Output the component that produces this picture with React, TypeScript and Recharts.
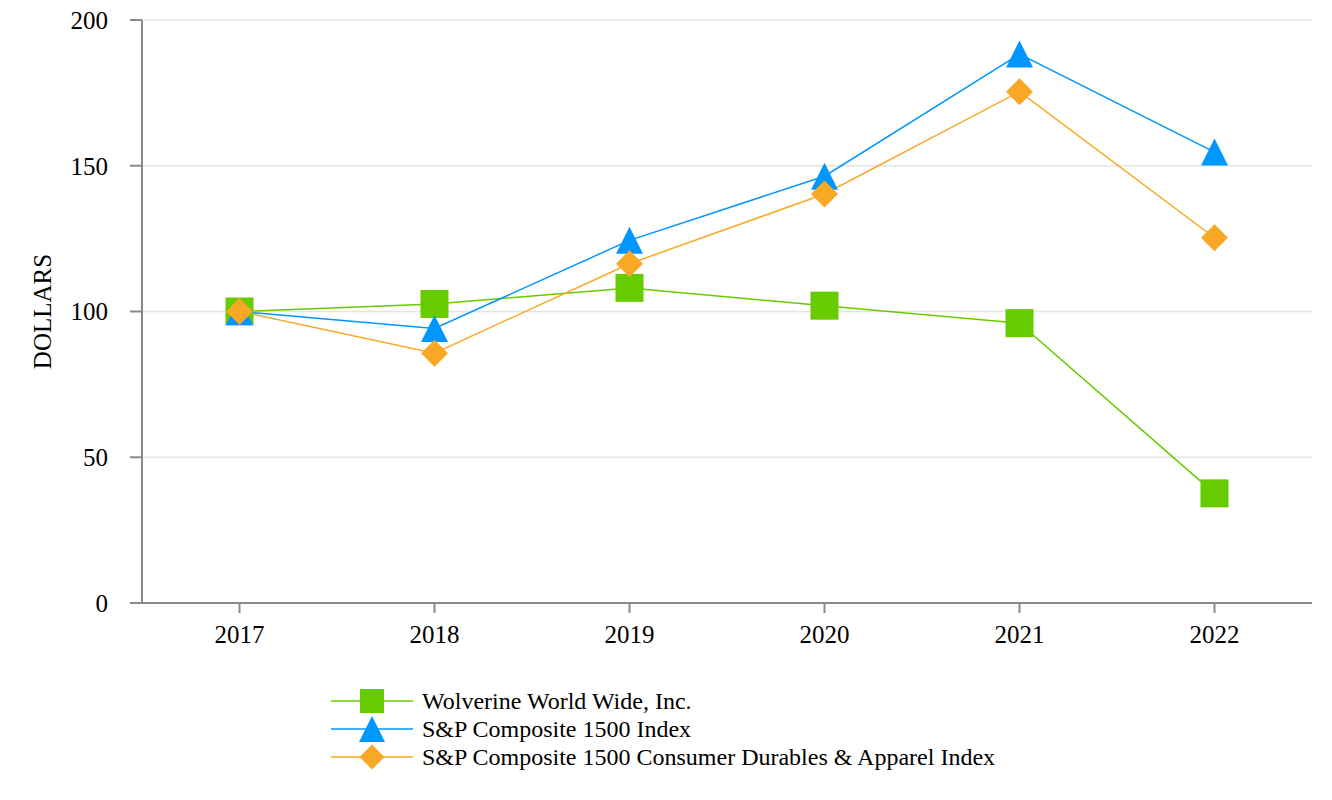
import React from "react";
import {
  LineChart,
  Line,
  XAxis,
  YAxis,
  CartesianGrid,
  Legend,
} from "recharts";

const years = ["2017", "2018", "2019", "2020", "2021", "2022"];
const wolverine = [100, 102.6, 108.1, 102.0, 96.0, 37.6];
const sp1500 = [100, 94.2, 124.4, 146.4, 188.3, 154.7];
const durables = [100, 85.7, 116.4, 140.3, 175.4, 125.3];
const yTicks = [0, 50, 100, 150, 200];

const GREEN = "#66CC00";
const BLUE = "#0096FF";
const ORANGE = "#F9A825";
const AXIS = "#8a8a8a";
const FONT = "'Liberation Serif', 'Times New Roman', serif";

const data = years.map((year, i) => ({
  year,
  wolverine: wolverine[i],
  sp1500: sp1500[i],
  durables: durables[i],
}));

const series = [
  { key: "wolverine", name: "Wolverine World Wide, Inc.", color: GREEN, shape: "square" },
  { key: "sp1500", name: "S&P Composite 1500 Index", color: BLUE, shape: "triangle" },
  {
    key: "durables",
    name: "S&P Composite 1500 Consumer Durables & Apparel Index",
    color: ORANGE,
    shape: "diamond",
  },
];

function Marker({ shape, cx, cy, color, r }: { shape: string; cx: number; cy: number; color: string; r: number }) {
  if (shape === "square") {
    return <rect x={cx - r} y={cy - r} width={r * 2} height={r * 2} fill={color} />;
  }
  if (shape === "triangle") {
    const pts = `${cx},${cy - r} ${cx + r},${cy + r} ${cx - r},${cy + r}`;
    return <polygon points={pts} fill={color} />;
  }
  const pts = `${cx},${cy - r} ${cx + r},${cy} ${cx},${cy + r} ${cx - r},${cy}`;
  return <polygon points={pts} fill={color} />;
}

function makeDot(shape: string, color: string) {
  return (props: any) => {
    const { cx, cy, index } = props;
    if (cx == null || cy == null) return <g key={`${shape}-${index}`} />;
    return (
      <g key={`${shape}-${index}`}>
        <Marker shape={shape} cx={cx} cy={cy} color={color} r={shape === "square" ? 14 : 13.5} />
      </g>
    );
  };
}

function XTick(props: any) {
  const { x, y, payload } = props;
  return (
    <text x={x} y={y} dy="0.71em" textAnchor="middle" fontSize={25} fill="#000" fontFamily={FONT}>
      {payload.value}
    </text>
  );
}

function YTick(props: any) {
  const { x, y, payload } = props;
  return (
    <text x={x} y={y} dy="0.355em" textAnchor="end" fontSize={25} fill="#000" fontFamily={FONT}>
      {payload.value}
    </text>
  );
}

function LegendContent() {
  return (
    <div style={{ fontFamily: FONT, fontSize: 24, color: "#000" }}>
      {series.map((s) => (
        <div key={s.key} style={{ display: "flex", alignItems: "center", height: 28 }}>
          <svg width={82} height={28} style={{ display: "block" }}>
            <line x1={0} y1={14} x2={82} y2={14} stroke={s.color} strokeWidth={1.5} />
            <Marker
              shape={s.shape}
              cx={41}
              cy={14}
              color={s.color}
              r={s.shape === "square" ? 12 : s.shape === "triangle" ? 13 : 12.5}
            />
          </svg>
          <span style={{ marginLeft: 9, whiteSpace: "nowrap", lineHeight: "28px" }}>{s.name}</span>
        </div>
      ))}
    </div>
  );
}

export default function App() {
  return (
    <div style={{ width: 1324, height: 792, background: "#fff", fontFamily: FONT }}>
      <LineChart
        width={1324}
        height={792}
        data={data}
        margin={{ top: 12, right: 20, left: 0, bottom: 147 }}
      >
        <CartesianGrid vertical={false} stroke="#e4e4e4" strokeWidth={1.5} />
        <XAxis
          dataKey="year"
          scale="band"
          height={50}
          tick={<XTick />}
          tickSize={10}
          tickMargin={12}
          axisLine={{ stroke: AXIS, strokeWidth: 2 }}
          tickLine={{ stroke: AXIS, strokeWidth: 2 }}
        />
        <YAxis
          width={134}
          domain={[0, 200]}
          ticks={yTicks}
          tick={<YTick />}
          tickSize={12}
          tickMargin={22}
          axisLine={{ stroke: AXIS, strokeWidth: 2 }}
          tickLine={{ stroke: AXIS, strokeWidth: 2 }}
          label={{
            value: "DOLLARS",
            angle: -90,
            position: "center",
            dx: -33,
            style: { fontSize: 25, fill: "#000", fontFamily: FONT },
          }}
        />
        <Legend
          layout="horizontal"
          verticalAlign="middle"
          align="center"
          content={<LegendContent />}
          wrapperStyle={{ position: "absolute", left: 323, top: 679, width: "auto" }}
        />
        {series.map((s) => (
          <Line
            key={s.key}
            type="linear"
            dataKey={s.key}
            name={s.name}
            stroke={s.color}
            strokeWidth={1.5}
            dot={makeDot(s.shape, s.color)}
            activeDot={false}
            isAnimationActive={false}
          />
        ))}
      </LineChart>
    </div>
  );
}
